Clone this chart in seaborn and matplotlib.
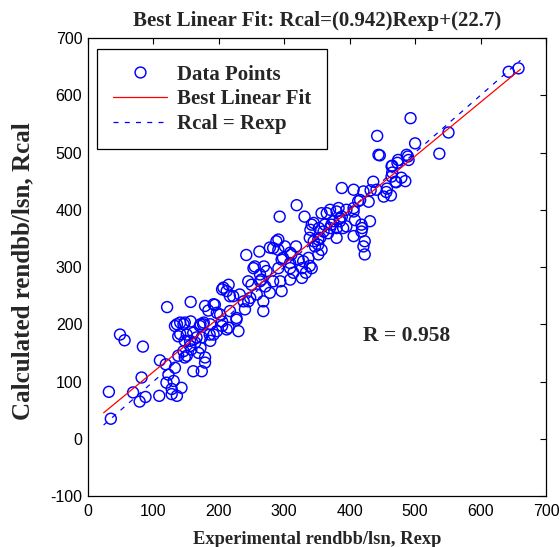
import numpy as np
import pandas as pd
import matplotlib
matplotlib.use("Agg")
import matplotlib.pyplot as plt
import seaborn as sns
from matplotlib.lines import Line2D

# ---- data ----
rexp = [32, 35, 49, 56, 84, 82, 69, 88, 79, 109, 128, 110, 119, 121, 157, 143, 131, 120, 123, 133,
        138, 148, 136, 128, 161, 174, 179, 169, 158, 164, 174, 148, 138, 136, 148, 157, 171, 176, 186, 197,
        215, 202, 184, 194, 242, 262, 283, 255, 269, 263, 215, 205, 222, 232, 250, 268, 230, 227, 141, 177,
        205, 187, 172, 156, 141, 133, 161, 151, 179, 293, 319, 331, 357, 370, 385, 406, 406, 395, 342, 352,
        339, 288, 291, 278, 311, 329, 309, 298, 253, 273, 263, 245, 283, 294, 309, 327, 339, 296, 278, 248,
        268, 238, 370, 380, 444, 464, 474, 489, 464, 485, 470, 436, 441, 457, 452, 421, 406, 388, 416, 429,
        395, 380, 365, 385, 372, 360, 355, 357, 418, 431, 418, 423, 421, 423, 406, 658, 643, 551, 493, 500,
        537, 487, 490, 442, 446, 383, 413, 408, 419, 345, 340, 353, 362, 375, 380, 390, 388, 367, 352, 347,
        352, 337, 342, 322, 309, 291, 301, 296, 309, 327, 291, 314, 333, 318, 345, 207, 212, 265, 271, 258,
        245, 217, 192, 179, 197, 205, 217, 240, 227, 212, 192, 187, 172, 146, 151, 166, 156, 146, 465, 473,
        465, 479, 471, 456, 463, 432]
rcal = [82, 35, 182, 172, 161, 107, 81, 73, 65, 75, 78, 137, 130, 230, 239, 89, 101, 98, 112, 124,
        145, 142, 75, 87, 118, 118, 133, 150, 156, 168, 177, 171, 179, 200, 203, 205, 197, 200, 182, 188,
        194, 217, 224, 234, 321, 327, 333, 301, 301, 287, 269, 261, 249, 252, 269, 223, 188, 211, 203, 203,
        197, 171, 159, 171, 183, 197, 185, 145, 142, 388, 408, 388, 394, 400, 385, 403, 354, 371, 374, 339,
        351, 345, 330, 334, 322, 310, 298, 316, 298, 293, 275, 275, 275, 275, 278, 281, 302, 258, 255, 246,
        240, 240, 368, 351, 496, 476, 487, 493, 458, 450, 449, 449, 435, 437, 423, 432, 435, 438, 417, 414,
        400, 397, 394, 380, 374, 362, 351, 330, 374, 380, 362, 345, 336, 322, 397, 647, 641, 535, 560, 516,
        498, 496, 487, 529, 495, 403, 415, 382, 368, 377, 365, 368, 374, 380, 368, 368, 388, 359, 348, 336,
        322, 316, 298, 313, 325, 348, 336, 313, 307, 298, 298, 290, 290, 336, 345, 264, 258, 278, 266, 252,
        240, 249, 235, 232, 220, 205, 223, 226, 208, 191, 182, 200, 200, 200, 182, 177, 162, 153, 477, 482,
        465, 456, 448, 431, 425, 434]
slope = [0.942]
intercept = [22.7]
r_value = [0.958]
x_ticks = [0, 100, 200, 300, 400, 500, 600, 700]
y_ticks = [-100, 0, 100, 200, 300, 400, 500, 600, 700]

df = pd.DataFrame({"Rexp": rexp, "Rcal": rcal})
lo = min(min(rexp), min(rcal)) - 8
hi = max(max(rexp), max(rcal)) + 3
line_x = np.array([lo, hi], dtype=float)
fit_df = pd.DataFrame({"x": line_x, "y": slope[0] * line_x + intercept[0]})
id_df = pd.DataFrame({"x": line_x, "y": line_x})

sns.set_style("white")
plt.rcParams["font.family"] = ["Liberation Sans", "DejaVu Sans"]
plt.rcParams["axes.unicode_minus"] = False

fig = plt.figure(figsize=(5.6, 5.47), dpi=100)
ax = fig.add_axes([0.157, 0.0932, 0.818, 0.8373])

sns.scatterplot(data=df, x="Rexp", y="Rcal", ax=ax, marker="o", s=62,
                facecolor="none", edgecolor="#0000ff", linewidth=1.05, zorder=3)
sns.lineplot(data=fit_df, x="x", y="y", ax=ax, color="#ff0000", linewidth=0.9, zorder=4)
sns.lineplot(data=id_df, x="x", y="y", ax=ax, color="#0000ff", linewidth=0.9,
             dashes=False, zorder=2)
ax.lines[-1].set_dashes([4, 5])

ax.set_xlim(0, 700)
ax.set_ylim(-100, 700)
ax.set_xticks(x_ticks)
ax.set_yticks(y_ticks)
ax.tick_params(direction="in", length=4, width=0.8, top=True, right=True,
               labelsize=11.5, colors="black")
ax.tick_params(axis="x", pad=5.5)
ax.tick_params(axis="y", pad=4)
for s in ax.spines.values():
    s.set_color("black")
    s.set_linewidth(0.9)

serif = ["Liberation Serif", "DejaVu Serif"]
ax.set_title("Best Linear Fit: Rcal=(%.3f)Rexp+(%.1f)" % (slope[0], intercept[0]),
             fontsize=15, fontweight="bold", family=serif, pad=9)
ax.set_xlabel("Experimental rendbb/lsn, Rexp", fontsize=13.3, fontweight="bold",
              family=serif, labelpad=9)
ax.set_ylabel("Calculated rendbb/lsn, Rcal", fontsize=18, fontweight="bold",
              family=serif, va="center")
ax.yaxis.set_label_coords(-0.143, 0.49)

ax.text(420, 179, "R = %.3f" % r_value[0], fontsize=15.5, fontweight="bold",
        family=serif, va="center", ha="left")

handles = [
    Line2D([], [], linestyle="none", marker="o", markersize=7.8, markerfacecolor="none",
           markeredgecolor="#0000ff", markeredgewidth=1.05),
    Line2D([], [], color="#ff0000", linewidth=0.9),
    Line2D([], [], color="#0000ff", linewidth=0.9, dashes=[4, 5]),
]
leg = ax.legend(handles, ["Data Points", "Best Linear Fit", "Rcal = Rexp"],
                loc="upper left", bbox_to_anchor=(0.02, 0.976), borderaxespad=0,
                prop={"family": serif, "weight": "bold", "size": 15},
                frameon=True, fancybox=False, framealpha=1, edgecolor="black",
                handlelength=2.6, handletextpad=0.5, labelspacing=0.22,
                borderpad=0.75)
leg.get_frame().set_linewidth(0.9)

fig.savefig("out.png", dpi=100)
